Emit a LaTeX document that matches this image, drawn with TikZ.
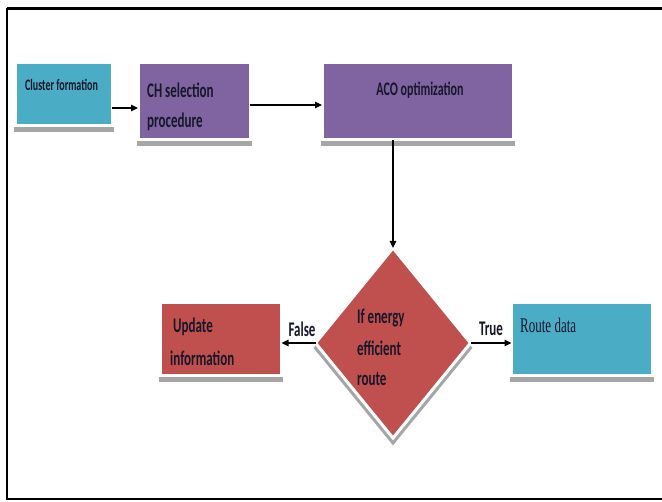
\documentclass[tikz,border=0pt]{standalone}
\usepackage{fontspec}
\setmainfont{Carlito}
\newfontfamily\routeserif{Liberation Serif}
\usetikzlibrary{shapes.geometric,arrows.meta}
\newcommand{\tallt}[1]{\scalebox{1}[1.6]{#1}}
\definecolor{cyanbox}{HTML}{4BACC6}
\definecolor{purplebox}{HTML}{8064A2}
\definecolor{redbox}{HTML}{C0504D}
\definecolor{shadowgray}{HTML}{A6A6A6}
\definecolor{txtcol}{HTML}{17172A}
\begin{document}
\begin{tikzpicture}[x=1pt,y=-1pt,
  bx/.style={draw=white, line width=3pt, inner sep=0pt, outer sep=0pt,
    preaction={fill=shadowgray, draw=shadowgray, line width=3pt, transform canvas={yshift=-5pt}}},
  rbox/.style={bx, rectangle},
  txt/.style={text=txtcol, inner sep=0pt, font=\bfseries\fontsize{13}{15}\selectfont},
  arr/.style={line width=1.1pt, -{Triangle[length=7pt,width=6.5pt]}}
]
\useasboundingbox (0,0) rectangle (662,502);
\fill[white] (0,0) rectangle (662,502);
% frame
\draw[line width=3pt] (662,9) -- (6.5,9);
\draw[line width=2pt] (6.5,8) -- (6.5,499.5) -- (662,499.5);

% boxes
\node[rbox, fill=cyanbox, minimum width=97pt, minimum height=63pt] (cf) at (63.5,94.5) {};
\node[rbox, fill=purplebox, minimum width=112pt, minimum height=77pt] (ch) at (194,101.5) {};
\node[rbox, fill=purplebox, minimum width=191pt, minimum height=77pt] (aco) at (417.5,101.5) {};
\node[bx, diamond, fill=redbox, minimum width=155pt, minimum height=190pt] (dia) at (393,343) {};
\node[rbox, fill=redbox, minimum width=121pt, minimum height=73pt] (upd) at (221,339.5) {};
\node[rbox, fill=cyanbox, minimum width=141pt, minimum height=73pt] (route) at (582,339.5) {};

% texts
\node[txt, anchor=west, font=\bfseries\fontsize{10}{12}\selectfont] (tcf) at (25,85) {\tallt{Cluster formation}};
\node[txt, anchor=west] (tch1) at (147,90) {\tallt{CH selection}};
\node[txt, anchor=west] (tch2) at (147,122) {\tallt{procedure}};
\node[txt, font=\bfseries\fontsize{12}{14}\selectfont] (taco) at (420,90) {\tallt{ACO optimization}};
\node[txt, anchor=west] (td1) at (357,318) {\tallt{If energy}};
\node[txt, anchor=west] (td2) at (357,348) {\tallt{efficient}};
\node[txt, anchor=west] (td3) at (357,379) {\tallt{route}};
\node[txt, anchor=west] (tu1) at (173,327) {\tallt{Update}};
\node[txt, anchor=west] (tu2) at (170,358) {\tallt{information}};
\node[txt, anchor=west, font=\routeserif\fontsize{13}{15}\selectfont] (tr) at (520,325) {\tallt{Route data}};

% connectors
\draw[arr] ([yshift=-13.5pt]cf.east) -- ([yshift=-6.5pt]ch.west);
\draw[arr] ([yshift=-3.5pt]ch.east) -- ([yshift=-3.5pt]aco.west);
\draw[arr] (dia.north |- aco.south) -- (dia.north);
\draw[arr] (dia.west) -- (dia.west -| upd.east);
\draw[arr] (dia.east) -- (dia.east -| route.west);

% labels
\node[txt] (lf) at (302,329) {\tallt{False}};
\node[txt] (lt) at (491,329) {\tallt{True}};
\end{tikzpicture}
\end{document}
